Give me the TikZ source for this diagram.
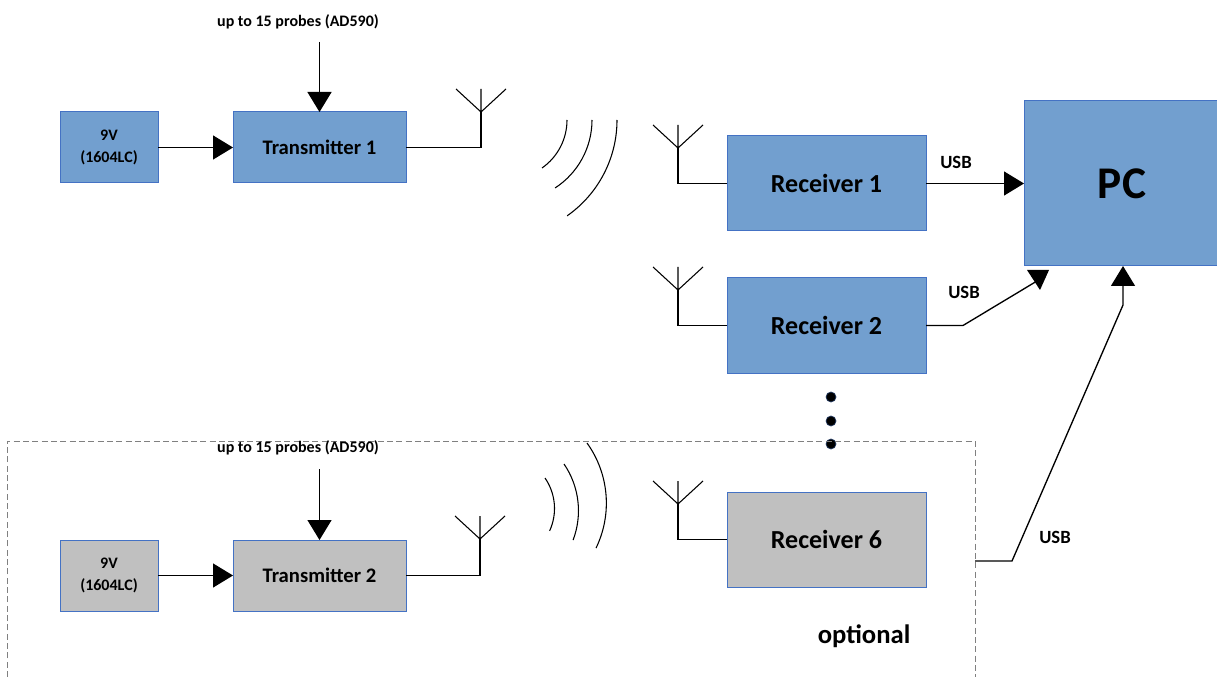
\documentclass[tikz,border=0pt]{standalone}
\usepackage{fontspec}
\setmainfont{Carlito}
\usetikzlibrary{arrows.meta}
\definecolor{boxblue}{RGB}{114,159,207}
\definecolor{edgeblue}{RGB}{68,114,196}
\definecolor{boxgray}{RGB}{192,192,192}
\definecolor{dashgray}{RGB}{128,128,128}

\begin{document}
\begin{tikzpicture}[x=0.75pt, y=-0.75pt, line width=1pt,
  unit/.style={draw=edgeblue, line width=0.75pt, fill=boxblue, inner sep=0pt, outer sep=0pt},
  batt/.style={unit, minimum width=73.5pt, minimum height=53.25pt, align=center, font=\bfseries\fontsize{12}{16}\selectfont},
  xmit/.style={unit, minimum width=129.75pt, minimum height=53.25pt, font=\bfseries\fontsize{15.5}{18}\selectfont},
  recv/.style={unit, minimum width=149.25pt, minimum height=71.25pt, font=\bfseries\fontsize{19.5}{23}\selectfont},
  extra/.style={fill=boxgray},
  probe/.style={font=\bfseries\fontsize{12}{14}\selectfont},
  usb/.style={font=\bfseries\fontsize{14}{16}\selectfont},
  feed/.style={-{Triangle[length=15pt, width=18pt]}},
  wave/.style={line width=0.8pt},
  pics/aerial/.style={code={\draw[line width=0.8pt] (-25,-23) -- (0,0) -- (25,-23) (0,0) -- (0,-23);}}
]
  \useasboundingbox (0,0) rectangle (1217,677);

  \node[batt] (v1) at (109,147.5) {9V\\(1604LC)};
  \node[xmit] (t1) at (319.5,147.5) {Transmitter 1};
  \node[probe] (l1) at (298,22) {up to 15 probes (AD590)};
  \coordinate (p1) at (319.5,42);
  \coordinate (a1) at (481,112);
  \draw[feed] (v1) -- (t1);
  \draw[feed] (p1) -- (t1);
  \draw[line width=0.8pt] (t1.east) -| (a1);
  \pic at (a1) {aerial};

  \draw[wave] (567,120) arc[start angle=0, end angle=55, radius=58.6];
  \draw[wave] (592,120) arc[start angle=0, end angle=57, radius=81];
  \draw[wave] (617,120) arc[start angle=0, end angle=55, radius=117];

  \node[recv] (r1) at (826.5,183.5) {Receiver 1};
  \node[recv] (r2) at (826.5,325.5) {Receiver 2};
  \node[recv, extra] (r6) at (826.5,539.5) {Receiver 6};
  \node[unit, minimum width=147pt, minimum height=123.75pt, font=\bfseries\fontsize{34}{40}\selectfont] (pc) at (1122,183.5) {PC};

  \foreach \rx/\ay in {r1/148, r2/290, r6/504}{
    \coordinate (\rx-a) at (678,\ay);
    \draw[line width=0.8pt] (\rx.west) -| (\rx-a);
    \pic at (\rx-a) {aerial};
  }

  \foreach \y in {397,421,444}
    \filldraw[draw=edgeblue!50!black, fill=black, line width=0.5pt] (831,\y) circle[radius=5];

  \draw[feed] (r1) -- (pc);
  \node[usb] (u1) at (956,162) {USB};

  \coordinate (k2) at (963,325.5);
  \coordinate (e2) at (1037,281);
  \draw (r2) -- (k2) -- (e2);
  \fill (1027,270) -- (1049,270) -- (1040,290) -- cycle;
  \node[usb] (u2) at (964,292) {USB};

  \draw[dashgray, line width=0.75pt, dash pattern=on 4.5pt off 2.5pt] (7,677) |- (975,441) -- (975,677);
  \node[font=\bfseries\fontsize{20}{24}\selectfont] (opt) at (864,636) {optional};

  \coordinate (o6) at (975,561);
  \coordinate (k6) at (1012,561);
  \coordinate (j6) at (1123,305);
  \draw[feed] (o6) -- (k6) -- (j6) -- (j6 |- pc.south);
  \node[usb] (u6) at (1055,537) {USB};

  \node[batt, extra] (v2) at (109,575.5) {9V\\(1604LC)};
  \node[xmit, extra] (t2) at (319.5,575.5) {Transmitter 2};
  \node[probe] (l2) at (298,448) {up to 15 probes (AD590)};
  \coordinate (p2) at (319.5,469);
  \coordinate (a2) at (480,539);
  \draw[feed] (v2) -- (t2);
  \draw[feed] (p2) -- (t2);
  \draw[line width=0.8pt] (t2.east) -| (a2);
  \pic at (a2) {aerial};

  \draw[wave] (545,478) arc[start angle=-34.6, end angle=24.6, radius=53.7];
  \draw[wave] (564,464) arc[start angle=-34.4, end angle=20.8, radius=82.7];
  \draw[wave] (587,443) arc[start angle=-35.7, end angle=25.9, radius=103];
\end{tikzpicture}
\end{document}
